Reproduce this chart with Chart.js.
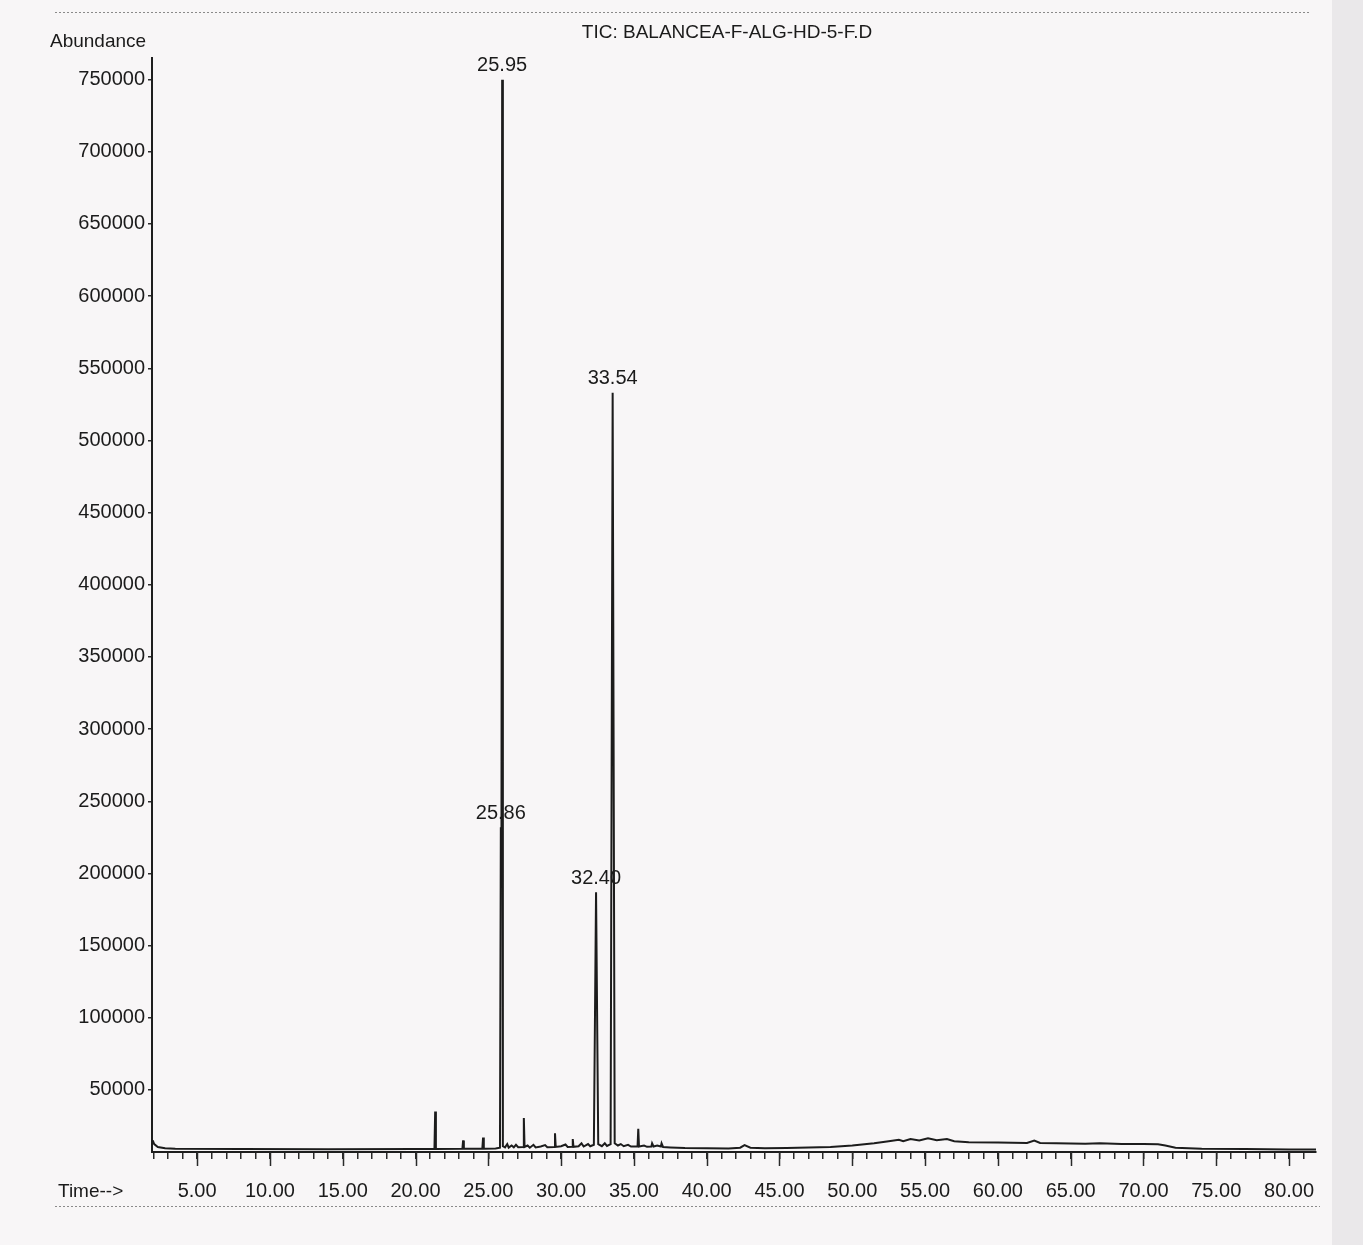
<!DOCTYPE html>
<html>
<head>
<meta charset="utf-8">
<title>TIC: BALANCEA-F-ALG-HD-5-F.D</title>
<script src="https://cdn.jsdelivr.net/npm/chart.js@4.4.1/dist/chart.umd.min.js"></script>
<style>
  html, body { margin: 0; padding: 0; background: #f8f6f7; overflow: hidden; }
  canvas { display: block; }
</style>
</head>
<body>
<canvas id="tic" width="1363" height="1245"></canvas>
<script>
// chromatogram trace (time in min, abundance)
const traceTimes = [
  1.95, 2.05, 2.3, 2.8, 3.5, 8.0, 14.0, 20.0,
  21.30, 21.35, 21.40, 23.22, 23.27, 23.32, 24.59, 24.64, 24.69,
  25.50, 25.80, 25.86, 25.90, 25.95, 26.00, 26.15, 26.30, 26.40,
  26.60, 26.75, 26.90, 27.05, 27.39, 27.44, 27.49, 27.70, 27.85,
  28.10, 28.25, 28.60, 28.90, 29.05, 29.53, 29.58, 29.63, 30.00,
  30.30, 30.45, 30.75, 30.80, 30.85, 31.20, 31.40, 31.55, 31.85,
  32.00, 32.25, 32.40, 32.55, 32.80, 33.00, 33.15, 33.40, 33.54,
  33.68, 33.90, 34.10, 34.30, 34.60, 34.80, 35.25, 35.30, 35.35,
  35.70, 35.90, 36.20, 36.25, 36.35, 36.60, 36.85, 36.90, 37.00,
  37.50, 38.50, 40.00, 41.50, 42.30, 42.60, 43.00, 44.00, 45.50,
  47.00, 48.50, 50.00, 51.50, 52.50, 53.20, 53.50, 54.00, 54.60,
  55.20, 55.80, 56.50, 57.00, 58.00, 60.00, 62.00, 62.50, 62.90,
  64.00, 66.00, 67.00, 68.50, 70.00, 71.00, 71.50, 72.20, 74.00,
  77.00, 80.00, 81.85
];
const traceAbundance = [
  15000, 12500, 10500, 9600, 9200, 9000, 8900, 9000,
  9100, 35000, 9100, 9200, 15000, 9200, 9300, 17000, 9300,
  9500, 10000, 232000, 200000, 750000, 11000, 10200, 12500, 10000,
  11500, 10200, 12000, 10300, 10500, 30500, 10500, 11500, 10000,
  12000, 10200, 10800, 11800, 10300, 10500, 20000, 10500, 11000,
  12200, 10500, 10600, 16000, 10600, 11000, 13000, 10800, 12500,
  11000, 12000, 187000, 12500, 11000, 13000, 11200, 12500, 533000,
  13000, 11500, 12500, 11000, 12000, 10800, 10800, 23000, 10800,
  11500, 10600, 10800, 13000, 10800, 11500, 10800, 13000, 10500,
  10200, 9800, 9600, 9500, 10000, 11800, 10000, 9600, 9800,
  10200, 10500, 11500, 13000, 14500, 15500, 14500, 16000, 15000,
  16500, 15200, 16000, 14500, 13800, 13500, 13300, 15000, 13300,
  13000, 12800, 13000, 12500, 12500, 12300, 11500, 10000, 9300,
  9000, 8800, 8800
];

// labelled peaks
const peakTimes = [25.95, 25.86, 32.40, 33.54];
const peakTops = [750000, 232000, 187000, 533000];
const peakNames = ["25.95", "25.86", "32.40", "33.54"];

// axis ticks
const abundanceTicks = [50000, 100000, 150000, 200000, 250000, 300000, 350000,
  400000, 450000, 500000, 550000, 600000, 650000, 700000, 750000];
const timeTickValues = [5, 10, 15, 20, 25, 30, 35, 40, 45, 50, 55, 60, 65, 70, 75, 80];
const timeTickLabels = ["5.00", "10.00", "15.00", "20.00", "25.00", "30.00", "35.00", "40.00",
  "45.00", "50.00", "55.00", "60.00", "65.00", "70.00", "75.00", "80.00"];
const minuteMarks = [];
for (let m = 2; m <= 81; m++) minuteMarks.push(m);

const FONT = "'Liberation Sans', Arial, sans-serif";
const INK = "#1b1b1b";

const paperPlugin = {
  id: "paper",
  beforeDraw(chart) {
    const c = chart.ctx;
    c.save();
    c.fillStyle = "#f8f6f7";
    c.fillRect(0, 0, chart.width, chart.height);
    c.fillStyle = "#eae8ea";
    c.fillRect(1332, 0, chart.width - 1332, chart.height);
    c.restore();
  },
};

const annotatePlugin = {
  id: "annotate",
  afterDraw(chart) {
    const c = chart.ctx;
    const xs = chart.scales.x;
    const ys = chart.scales.y;
    c.save();

    // longer marks at every 5 minutes
    c.strokeStyle = "#2a2a2a";
    c.lineWidth = 1.5;
    timeTickValues.forEach((v) => {
      const px = Math.round(xs.getPixelForValue(v)) + 0.5;
      c.beginPath();
      c.moveTo(px, xs.top);
      c.lineTo(px, xs.top + 14);
      c.stroke();
    });

    // dotted frame lines of the printout
    c.strokeStyle = "#8a8a8a";
    c.lineWidth = 1.2;
    c.setLineDash([2, 2]);
    c.beginPath();
    c.moveTo(55, 12.5);
    c.lineTo(1310, 12.5);
    c.moveTo(55, 1206.5);
    c.lineTo(1320, 1206.5);
    c.stroke();
    c.setLineDash([]);

    c.fillStyle = INK;
    c.textBaseline = "middle";
    c.font = "19px " + FONT;
    c.textAlign = "center";
    c.fillText("TIC: BALANCEA-F-ALG-HD-5-F.D", 727, 33);
    c.textAlign = "left";
    c.fillText("Abundance", 50, 42);
    c.fillText("Time-->", 58, 1192);

    c.font = "20px " + FONT;
    c.textAlign = "center";
    c.textBaseline = "bottom";
    peakTimes.forEach((t, i) => {
      const px = xs.getPixelForValue(t);
      const py = ys.getPixelForValue(peakTops[i]);
      c.fillText(peakNames[i], px, py - 4);
    });
    c.restore();
  },
};

new Chart(document.getElementById("tic"), {
  type: "line",
  data: {
    datasets: [{
      label: "TIC",
      data: traceTimes.map((t, i) => ({ x: t, y: traceAbundance[i] })),
      borderColor: "#1c1c1c",
      borderWidth: 2,
      pointRadius: 0,
      tension: 0,
      fill: false,
    }],
  },
  options: {
    responsive: false,
    animation: false,
    layout: { padding: { top: 58, right: 47, bottom: 0, left: 0 } },
    plugins: {
      legend: { display: false },
      tooltip: { enabled: false },
      title: { display: false },
    },
    scales: {
      x: {
        type: "linear",
        min: 1.9,
        max: 81.85,
        afterBuildTicks: (scale) => {
          scale.ticks = minuteMarks.map((v) => ({ value: v }));
        },
        afterFit: (scale) => { scale.height = 93; },
        ticks: {
          autoSkip: false,
          maxRotation: 0,
          padding: 20,
          color: INK,
          font: { family: FONT, size: 20 },
          callback: (value) => {
            const k = timeTickValues.indexOf(value);
            return k >= 0 ? timeTickLabels[k] : "";
          },
        },
        grid: { drawOnChartArea: false, drawTicks: true, tickLength: 7, color: "#2a2a2a", lineWidth: 1.5 },
        border: { display: true, color: "#1e1e1e", width: 2 },
      },
      y: {
        type: "linear",
        min: 7000,
        max: 765000,
        afterBuildTicks: (scale) => {
          scale.ticks = abundanceTicks.map((v) => ({ value: v }));
        },
        afterFit: (scale) => { scale.width = 152; },
        ticks: {
          padding: 3,
          color: INK,
          font: { family: FONT, size: 20 },
          callback: (value) => String(value),
        },
        grid: { drawOnChartArea: false, drawTicks: true, tickLength: 4, color: "#2a2a2a", lineWidth: 1.5 },
        border: { display: true, color: "#1e1e1e", width: 2 },
      },
    },
  },
  plugins: [paperPlugin, annotatePlugin],
});
</script>
</body>
</html>
